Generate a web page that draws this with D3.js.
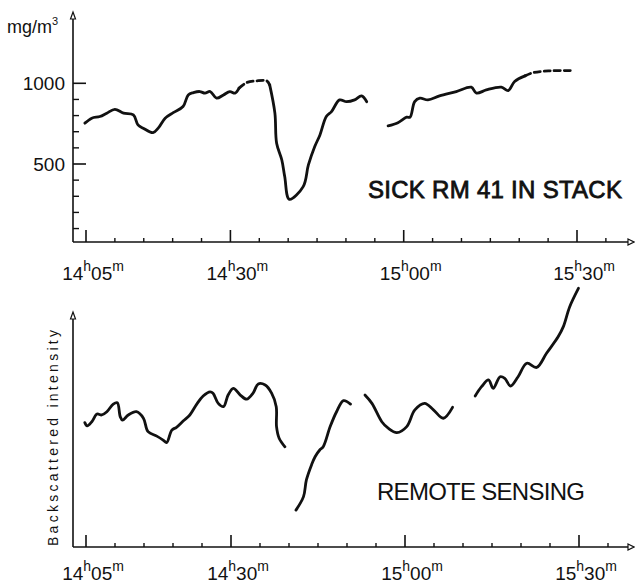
<!DOCTYPE html>
<html><head><meta charset="utf-8">
<script src="https://cdn.jsdelivr.net/npm/d3@7"></script>
<style>body{margin:0;background:#fff}svg{display:block}text{font-family:"Liberation Sans",Arial,sans-serif;fill:#111}</style>
</head><body>
<svg id="c" width="635" height="585"></svg>
<script>
// time in minutes after 14h00
const timeTicksMajor = [5, 30, 60, 90];
const timeTickLabels = [["14","05"],["14","30"],["15","00"],["15","30"]];
const timeTicksMinor = [10,15,20,25,35,40,45,50,55,65,70,75,80,85,95];
const concTicksMajor = [500, 1000];
const concTickLabels = ["500", "1000"];
const concTicksMinor = [100,200,300,400,600,700,800,900];

// SICK RM 41 in stack, mg/m3
const stackSolid1 = [[4.8,753],[6.0,784],[7.4,794],[8.6,815],[10.0,839],[11.5,815],[13.2,804],[14.0,742],[14.9,722],[16.6,694],[17.5,722],[18.7,784],[20.1,818],[21.8,856],[22.7,928],[23.6,942],[24.7,949],[25.6,939],[26.5,949],[27.6,908],[28.8,928],[29.9,949],[30.8,939],[31.5,970]];
const stackDashed1 = [[31.5,970],[32.8,1004],[34.5,1015],[36.3,1015],[36.8,990]];
const stackSolid2 = [[36.8,990],[37.7,815],[38.0,629],[38.9,525],[39.4,422],[40.2,281],[42.6,360],[43.5,494],[44.6,608],[45.5,680],[46.6,794],[47.5,825],[48.9,897],[50.1,886],[51.5,897],[52.7,922],[53.6,886]];
const stackSolid3 = [[57.3,736],[59.0,756],[60.5,790],[61.1,790],[61.9,886],[62.8,908],[64.2,897],[66.2,922],[69.1,949],[71.7,976],[72.6,939],[74.3,959],[76.9,976],[78.1,955],[79.2,1011],[81.0,1046]];
const stackDashed2 = [[81.0,1046],[82.4,1066],[85.3,1077],[89.3,1079]];

// Remote sensing, backscattered intensity (arbitrary units)
const remote1 = [[4.8,53.6],[5.2,52.2],[6.0,54.0],[6.9,57.3],[7.7,56.9],[8.6,58.3],[9.7,61.6],[10.4,62.2],[10.9,56.2],[11.3,54.7],[12.3,56.9],[13.7,58.3],[14.9,55.5],[15.7,49.7],[17.2,47.8],[18.3,46.1],[18.9,45.0],[19.8,50.4],[20.6,51.6],[21.8,54.4],[22.9,56.9],[24.1,61.6],[25.2,65.1],[26.4,66.9],[26.9,66.3],[27.8,61.9],[28.7,60.5],[29.5,65.5],[30.4,68.4],[31.6,65.5],[32.7,63.7],[33.8,66.3],[34.7,70.3],[35.9,69.8],[37.0,66.3],[37.8,60.5],[37.85,51.9],[38.3,46.9],[39.3,43.2]];
const remote2 = [[41.2,15.9],[42.5,21.7],[43.0,28.9],[43.9,35.5],[44.5,38.9],[45.3,41.8],[45.9,43.2],[47.1,51.9],[48.2,58.3],[49.4,63.1],[50.6,61.6]];
const remote3 = [[53.1,65.5],[54.3,61.9],[56.0,54.0],[57.1,51.2],[58.6,49.3],[60.3,51.9],[61.7,59.1],[63.4,61.9],[64.9,59.1],[66.6,55.5],[68.2,60.2]];
const remote4 = [[72.1,65.1],[73.2,69.1],[74.4,72.0],[75.2,68.4],[76.4,73.4],[77.2,72.7],[78.2,69.4],[79.5,73.4],[81.0,79.2],[82.7,77.4],[84.4,83.5],[86.4,90.6],[87.3,95.0],[88.4,103.6],[89.9,111.5]];

const svg = d3.select("#c");
const ink = "#111";

function drawTimeAxis(x, yAxis, x0, xEnd, labelY){
  const g = svg.append("g");
  g.append("line").attr("x1",x0).attr("x2",xEnd-4).attr("y1",yAxis).attr("y2",yAxis)
    .attr("stroke",ink).attr("stroke-width",1.6);
  g.append("path").attr("d",`M${xEnd-6},${yAxis-3}L${xEnd},${yAxis}L${xEnd-6},${yAxis+3}Z`)
    .attr("fill","#fff").attr("stroke",ink).attr("stroke-width",1.2);
  g.selectAll(".mj").data(timeTicksMajor).join("line")
    .attr("x1",d=>x(d)).attr("x2",d=>x(d)).attr("y1",yAxis).attr("y2",yAxis-12)
    .attr("stroke",ink).attr("stroke-width",1.6);
  g.selectAll(".mn").data(timeTicksMinor).join("line")
    .attr("x1",d=>x(d)).attr("x2",d=>x(d)).attr("y1",yAxis).attr("y2",yAxis-4)
    .attr("stroke",ink).attr("stroke-width",1.4);
  const t = g.selectAll(".lb").data(timeTicksMajor).join("text")
    .attr("x",d=>x(d)+7).attr("y",labelY).attr("text-anchor","middle").style("font-size","19px");
  t.each(function(d,i){
    const s = d3.select(this); const lab = timeTickLabels[i];
    s.append("tspan").text(lab[0]);
    s.append("tspan").attr("dy",-9).style("font-size","14px").text("h");
    s.append("tspan").attr("dy",9).text(lab[1]);
    s.append("tspan").attr("dy",-9).style("font-size","14px").text("m");
  });
}

function drawLine(data, x, y, dashed){
  const line = d3.line().x(d=>x(d[0])).y(d=>y(d[1])).curve(d3.curveCatmullRom.alpha(0.5));
  svg.append("path").datum(data).attr("d",line).attr("fill","none").attr("stroke",ink)
    .attr("stroke-width",2.8).attr("stroke-linecap","round").attr("stroke-linejoin","round")
    .attr("stroke-dasharray",dashed?"6,4":null);
}

// ---------- top panel ----------
const xTop = d3.scaleLinear().domain([5,90]).range([86,577]);
const yTop = d3.scaleLinear().domain([0,1000]).range([244.7,83.3]);
const axTopX = 73, axTopY = 242;
svg.append("line").attr("x1",axTopX).attr("x2",axTopX).attr("y1",axTopY).attr("y2",16)
  .attr("stroke",ink).attr("stroke-width",1.6);
svg.append("path").attr("d",`M${axTopX-2.5},${19}L${axTopX},${12}L${axTopX+2.5},${19}Z`).attr("fill","#fff").attr("stroke",ink).attr("stroke-width",1.2);
svg.selectAll(".ymn").data(concTicksMinor).join("line")
  .attr("x1",axTopX).attr("x2",axTopX+6).attr("y1",d=>yTop(d)).attr("y2",d=>yTop(d))
  .attr("stroke",ink).attr("stroke-width",1.4);
svg.selectAll(".ymj").data(concTicksMajor).join("line")
  .attr("x1",axTopX).attr("x2",axTopX+13).attr("y1",d=>yTop(d)).attr("y2",d=>yTop(d))
  .attr("stroke",ink).attr("stroke-width",1.6);
svg.selectAll(".ylb").data(concTicksMajor).join("text")
  .attr("x",65).attr("y",d=>yTop(d)+7).attr("text-anchor","end").style("font-size","19px")
  .text((d,i)=>concTickLabels[i]);
const unit = svg.append("text").attr("x",7).attr("y",33).style("font-size","18px");
unit.append("tspan").text("mg/m");
unit.append("tspan").attr("dy",-8).style("font-size","11px").text("3");

drawTimeAxis(xTop, axTopY, axTopX, 634, 280);
drawLine(stackSolid1, xTop, yTop, false);
drawLine(stackDashed1, xTop, yTop, true);
drawLine(stackSolid2, xTop, yTop, false);
drawLine(stackSolid3, xTop, yTop, false);
drawLine(stackDashed2, xTop, yTop, true);
svg.append("text").attr("x",368).attr("y",198).style("font-size","24px")
  .style("stroke",ink).style("stroke-width","0.8px").attr("textLength",254).attr("lengthAdjust","spacing")
  .text("SICK RM 41 IN STACK");

// ---------- bottom panel ----------
const xBot = d3.scaleLinear().domain([5,90]).range([86,579]);
const yBot = d3.scaleLinear().domain([0,100]).range([547,315]);
const axBotX = 73, axBotY = 547;
svg.append("line").attr("x1",axBotX).attr("x2",axBotX).attr("y1",axBotY).attr("y2",316)
  .attr("stroke",ink).attr("stroke-width",1.6);
svg.append("path").attr("d",`M${axBotX-2.5},${319}L${axBotX},${312}L${axBotX+2.5},${319}Z`).attr("fill","#fff").attr("stroke",ink).attr("stroke-width",1.2);
drawTimeAxis(xBot, axBotY, axBotX, 634, 580);
drawLine(remote1, xBot, yBot, false);
drawLine(remote2, xBot, yBot, false);
drawLine(remote3, xBot, yBot, false);
drawLine(remote4, xBot, yBot, false);
svg.append("text").attr("transform","translate(58,438) rotate(-90)").attr("text-anchor","middle")
  .style("font-size","14px").attr("textLength",216).attr("lengthAdjust","spacing")
  .text("Backscattered  intensity");
svg.append("text").attr("x",377).attr("y",500).style("font-size","24px")
  .attr("textLength",208).attr("lengthAdjust","spacing").text("REMOTE SENSING");
</script>
</body></html>
